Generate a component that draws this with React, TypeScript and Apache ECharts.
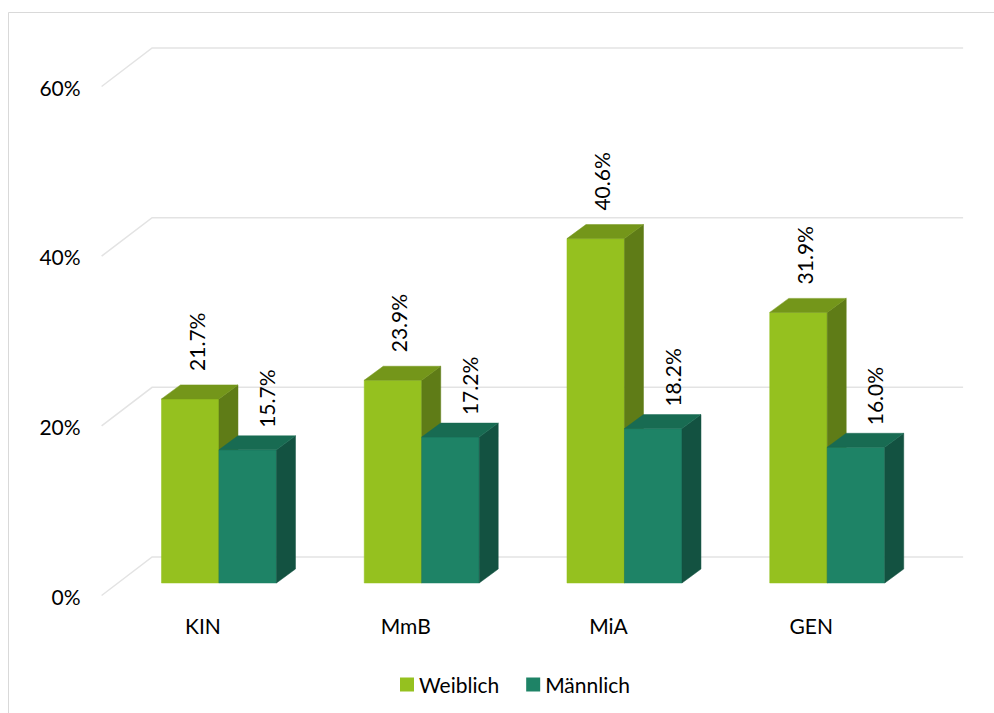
import React, { useEffect, useRef } from "react";
import * as echarts from "echarts";

const categories = ["KIN", "MmB", "MiA", "GEN"];
const seriesNames = ["Weiblich", "Männlich"];
const weiblich = [21.7, 23.9, 40.6, 31.9];
const maennlich = [15.7, 17.2, 18.2, 16.0];
const yTicks = [0, 20, 40, 60];
const yTickLabels = ["0%", "20%", "40%", "60%"];

const FONT = "Lato";
const FS = 21;
const DEPTH = [19, -14];
const FRONT = [-16, 12.5];
const BACK = [34.5, -26];
const LABEL_DX = [6, 19];
const LABEL_DY = [28, 22];

const palettes = [
  { front: "#95C11F", side: "#5F7C17", top: "#74961A" },
  { front: "#1E8366", side: "#135241", top: "#186B52" },
];

export default function App() {
  const ref = useRef<HTMLDivElement>(null);
  useEffect(() => {
    const chart = echarts.init(ref.current!, null, { renderer: "svg" });

    const gridSeries: any = {
      type: "custom",
      name: "grid3d",
      silent: true,
      z: 1,
      data: yTicks.map((v, i) => [0, v, i]),
      encode: { x: 0, y: 1 },
      renderItem: (params: any, api: any) => {
        const cs = params.coordSys;
        const v = api.value(1);
        const idx = api.value(2);
        const y = api.coord([0, v])[1];
        return {
          type: "group",
          children: [
            {
              type: "polyline",
              shape: {
                points: [
                  [cs.x + FRONT[0], y + FRONT[1]],
                  [cs.x + BACK[0], y + BACK[1]],
                  [cs.x + cs.width + BACK[0], y + BACK[1]],
                ],
              },
              style: { stroke: "#E3E3E3", lineWidth: 1.5, fill: "none" },
            },
            {
              type: "text",
              x: cs.x - 37,
              y: y + 13,
              style: {
                text: yTickLabels[idx],
                align: "right",
                verticalAlign: "middle",
                fontFamily: FONT,
                fontSize: FS,
                fill: "#000",
              },
            },
          ],
        };
      },
    };

    const makeBar = (si: number): any => {
      const p = palettes[si];
      const vals = si === 0 ? weiblich : maennlich;
      return {
        type: "custom",
        name: seriesNames[si],
        z: 2 + si,
        itemStyle: { color: p.front },
        data: vals.map((v, i) => [i, v]),
        encode: { x: 0, y: 1 },
        renderItem: (params: any, api: any) => {
          const c = api.value(0);
          const v = api.value(1);
          const base = api.coord([c, 0]);
          const topP = api.coord([c, v]);
          const band = api.size([1, 0])[0];
          const w = band * 0.2836;
          const x0 = si === 0 ? base[0] - w : base[0];
          const x1 = x0 + w;
          const yb = base[1];
          const yt = topP[1];
          const [dx, dy] = DEPTH;
          return {
            type: "group",
            children: [
              {
                type: "polygon",
                shape: { points: [[x0, yt], [x1, yt], [x1, yb], [x0, yb]] },
                style: { fill: p.front, stroke: p.front, lineWidth: 0.5 },
              },
              {
                type: "polygon",
                shape: { points: [[x1, yt], [x1 + dx, yt + dy], [x1 + dx, yb + dy], [x1, yb]] },
                style: { fill: p.side, stroke: p.side, lineWidth: 0.5 },
              },
              {
                type: "polygon",
                shape: { points: [[x0, yt], [x0 + dx, yt + dy], [x1 + dx, yt + dy], [x1, yt]] },
                style: { fill: p.top, stroke: p.top, lineWidth: 0.5 },
              },
              {
                type: "text",
                x: (x0 + x1) / 2 + LABEL_DX[si],
                y: yt - LABEL_DY[si],
                rotation: Math.PI / 2,
                style: {
                  text: v.toFixed(1) + "%",
                  align: "left",
                  verticalAlign: "middle",
                  fontFamily: FONT,
                  fontSize: FS,
                  fill: "#000",
                },
              },
            ],
          };
        },
      };
    };

    chart.setOption({
      animation: false,
      backgroundColor: "#fff",
      grid: { left: 117.6, right: 65.4, top: 74, bottom: 130 },
      xAxis: {
        type: "category",
        data: categories,
        axisLine: { show: false },
        axisTick: { show: false },
        splitLine: { show: false },
        axisLabel: {
          margin: 32,
          padding: [0, 32, 0, 0],
          fontFamily: FONT,
          fontSize: FS,
          color: "#000",
        },
      },
      yAxis: { type: "value", min: 0, max: 60, interval: 20, show: false },
      legend: {
        data: seriesNames,
        left: 395,
        top: 669,
        itemWidth: 14,
        itemHeight: 14,
        itemGap: 27,
        icon: "rect",
        textStyle: { fontFamily: FONT, fontSize: FS, color: "#000" },
      },
      graphic: [
        {
          type: "rect",
          silent: true,
          z: 0,
          shape: { x: 8.5, y: 12.5, width: 1100, height: 800 },
          style: { fill: "none", stroke: "#D9D9D9", lineWidth: 1 },
        },
      ],
      series: [gridSeries, makeBar(0), makeBar(1)],
    });
    return () => chart.dispose();
  }, []);
  return (
    <div
      ref={ref}
      style={{ position: "fixed", left: 0, top: 0, width: 994, height: 713, background: "#fff" }}
    />
  );
}
